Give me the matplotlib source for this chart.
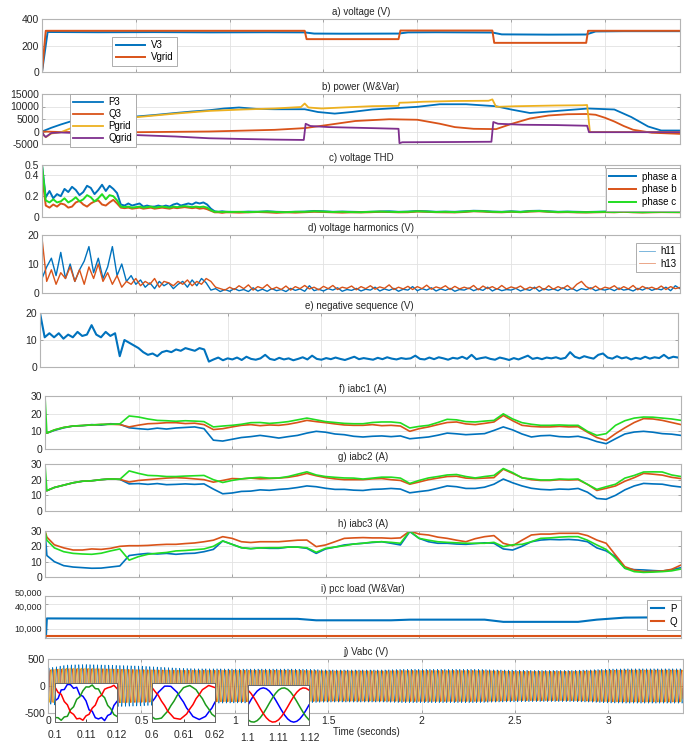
import numpy as np
import matplotlib
matplotlib.use('Agg')
import matplotlib.pyplot as plt
import matplotlib.transforms as mtransforms
from matplotlib.ticker import FuncFormatter

plt.rcParams['font.family'] = ['Liberation Sans', 'DejaVu Sans']
plt.rcParams['font.size'] = 7
plt.rcParams['axes.unicode_minus'] = False

BLUE = '#0072BD'
ORANGE = '#D95319'
YELLOW = '#EDB120'
PURPLE = '#7E2F8E'
GREEN = '#22dd22'

# a) voltage (V)
v3_t = [0, 0.03, 0.3, 0.6, 0.9, 1.2, 1.4, 1.45, 1.6, 1.9, 1.95, 2.1, 2.4, 2.45, 2.7, 2.9, 2.95, 3.1, 3.4]
v3 = [0, 302, 300, 301, 299, 300, 299, 290, 289, 290, 299, 300, 298, 284, 282, 283, 306, 308, 308]
vgrid_t = [0, 0.02, 1.4, 1.41, 1.9, 1.91, 2.4, 2.41, 2.9, 2.91, 3.4]
vgrid = [0, 311, 311, 248, 248, 313, 313, 220, 220, 311, 311]

# b) power (W&Var)
p3_t = [0, 0.05, 0.1, 0.16, 0.25, 0.35, 0.47, 0.6, 0.71, 0.8, 0.89, 0.97, 1.05, 1.14, 1.24, 1.40, 1.47,
        1.56, 1.65, 1.76, 1.85, 2.0, 2.12, 2.26, 2.42, 2.5, 2.6, 2.74, 2.91, 3.05, 3.14, 3.23, 3.3, 3.4]
p3 = [0, 1500, 2800, 4200, 5000, 5400, 5800, 6600, 7400, 8000, 8500, 9200, 9600, 9050, 8900, 8900, 7800,
      7160, 7800, 8800, 9200, 9860, 10900, 10900, 10100, 8800, 7400, 8200, 9200, 8800, 5800, 2000, 400, 400]
pgrid_t = [0, 0.01, 0.02, 0.05, 0.1, 0.16, 0.3, 0.47, 0.6, 0.71, 0.89, 1.07, 1.24, 1.38, 1.40, 1.42, 1.49,
           1.6, 1.76, 1.9, 1.905, 1.95, 2.03, 2.2, 2.38, 2.40, 2.42, 2.52, 2.74, 2.88, 2.905, 2.92, 3.4]
pgrid = [0, -1500, -2300, -800, -300, 1500, 4000, 5500, 6400, 7160, 8240, 8800, 9200, 9800, 11200, 9600, 9200,
         9600, 10130, 10270, 11500, 11600, 11900, 12200, 12300, 12840, 9860, 10100, 10400, 10500, 10600, -200, -200]
q3_t = [0, 0.1, 0.47, 0.89, 1.24, 1.40, 1.53, 1.67, 1.85, 2.0, 2.12, 2.2, 2.3, 2.42, 2.5, 2.6, 2.7, 2.8,
        2.9, 2.95, 3.0, 3.05, 3.1, 3.15, 3.25, 3.4]
q3 = [0, -200, -300, 0, 670, 1350, 2700, 4200, 4900, 4700, 3100, 1760, 1080, 950, 3000, 5200, 6400, 6900,
      7000, 6700, 5500, 4000, 2200, 700, -500, -950]
qgrid_t = [0, 0.01, 0.02, 0.05, 0.1, 0.47, 0.71, 0.89, 1.07, 1.24, 1.395, 1.405, 1.43, 1.53, 1.76, 1.9,
           1.905, 1.92, 2.2, 2.395, 2.405, 2.43, 2.56, 2.74, 2.905, 2.915, 3.4]
qgrid = [0, -1500, -2200, -600, -400, -1350, -2000, -2700, -3000, -3240, -3380, 3100, 2200, 1760, 1350, 1080,
         -4700, -4300, -4200, -4100, 3800, 3100, 2700, 2570, 2300, -270, -270]

# c) voltage THD: 0.02 s steps up to 1 s, then 0.05 s steps
thd_t = np.r_[0, np.arange(1, 50) * 0.02, np.arange(20, 69) * 0.05]
thd_a = [0.5,
         0.19, 0.25, 0.18, 0.22, 0.20, 0.27, 0.24, 0.29, 0.26, 0.21,
         0.24, 0.30, 0.28, 0.22, 0.26, 0.31, 0.25, 0.30, 0.27, 0.23,
         0.12, 0.11, 0.13, 0.11, 0.12, 0.13, 0.10, 0.11, 0.10, 0.10,
         0.11, 0.10, 0.11, 0.10, 0.12, 0.13, 0.11, 0.12, 0.13, 0.12,
         0.14, 0.13, 0.14, 0.12, 0.08, 0.055, 0.05, 0.055, 0.05,
         0.05, 0.048, 0.052, 0.05, 0.055, 0.05, 0.048, 0.05, 0.052, 0.058,
         0.055, 0.05, 0.052, 0.05, 0.048, 0.05, 0.053, 0.055, 0.05, 0.052,
         0.058, 0.055, 0.05, 0.052, 0.05, 0.055, 0.06, 0.058, 0.052, 0.05,
         0.055, 0.05, 0.058, 0.06, 0.055, 0.05, 0.052, 0.05, 0.048, 0.05,
         0.052, 0.05, 0.055, 0.05, 0.048, 0.05, 0.052, 0.05, 0.05]
thd_b = [0.4,
         0.11, 0.09, 0.12, 0.10, 0.13, 0.12, 0.09, 0.10, 0.14, 0.155,
         0.12, 0.10, 0.13, 0.15, 0.16, 0.12, 0.11, 0.14, 0.165, 0.13,
         0.09, 0.085, 0.09, 0.08, 0.085, 0.09, 0.08, 0.085, 0.09, 0.08,
         0.085, 0.09, 0.085, 0.08, 0.09, 0.085, 0.09, 0.095, 0.09, 0.085,
         0.09, 0.08, 0.085, 0.075, 0.06, 0.045, 0.045, 0.04, 0.045,
         0.045, 0.042, 0.045, 0.048, 0.045, 0.04, 0.045, 0.042, 0.046, 0.05,
         0.048, 0.045, 0.042, 0.045, 0.044, 0.046, 0.05, 0.048, 0.045, 0.046,
         0.052, 0.05, 0.046, 0.045, 0.044, 0.048, 0.055, 0.052, 0.047, 0.045,
         0.05, 0.046, 0.052, 0.055, 0.05, 0.045, 0.047, 0.044, 0.043, 0.045,
         0.047, 0.045, 0.05, 0.045, 0.043, 0.045, 0.047, 0.046, 0.045]
thd_c = [0.5,
         0.16, 0.14, 0.17, 0.14, 0.15, 0.18, 0.14, 0.16, 0.19, 0.15,
         0.17, 0.21, 0.19, 0.15, 0.18, 0.22, 0.17, 0.21, 0.20, 0.16,
         0.10, 0.095, 0.10, 0.09, 0.095, 0.10, 0.09, 0.095, 0.10, 0.09,
         0.095, 0.10, 0.095, 0.09, 0.10, 0.095, 0.10, 0.105, 0.10, 0.095,
         0.10, 0.095, 0.10, 0.09, 0.065, 0.05, 0.05, 0.048, 0.05,
         0.048, 0.05, 0.047, 0.05, 0.052, 0.048, 0.046, 0.05, 0.05, 0.055,
         0.052, 0.048, 0.05, 0.047, 0.046, 0.05, 0.052, 0.05, 0.048, 0.05,
         0.055, 0.052, 0.048, 0.05, 0.047, 0.052, 0.057, 0.055, 0.05, 0.048,
         0.052, 0.048, 0.055, 0.058, 0.052, 0.048, 0.05, 0.047, 0.046, 0.048,
         0.05, 0.048, 0.052, 0.048, 0.046, 0.048, 0.05, 0.048, 0.048]

# d) voltage harmonics (V), 0.025 s steps
harm_t = np.arange(137) * 0.025
h11 = [5, 9, 12, 6, 14, 5, 10, 4, 8, 11,
       16, 7, 12, 5, 9, 16, 6, 10, 4, 6,
       3, 4.5, 2, 3.5, 1.5, 4, 2.5, 3.5, 1.5, 3,
       4, 2, 4.5, 2.5, 5, 3.5, 1, 1.5, 0.5, 1.2,
       0.6, 1.5, 0.8, 1.2, 0.5, 1.8, 0.7, 1.3, 0.6, 1.5,
       0.8, 1.2, 0.5, 1.6, 0.9, 1.4, 0.6, 2.5, 0.8, 1.3,
       0.7, 1.5, 1.0, 1.8, 0.6, 1.2, 0.9, 1.6, 0.7, 1.3,
       1.0, 2.0, 0.7, 1.4, 0.9, 1.6, 0.6, 1.3, 1.0, 2.2,
       0.8, 1.5, 1.0, 1.8, 0.7, 1.4, 0.9, 1.6, 0.6, 1.2,
       1.0, 1.7, 0.8, 1.4, 0.9, 2.0, 0.7, 1.5, 0.8, 1.2,
       1.0, 1.6, 0.7, 1.3, 0.9, 2.0, 0.6, 1.5, 1.0, 1.4,
       0.8, 1.8, 1.0, 1.6, 0.7, 1.5, 1.1, 1.8, 0.8, 1.3,
       1.0, 1.5, 0.8, 1.7, 1.0, 1.3, 0.7, 1.6, 1.0, 1.8,
       0.9, 1.5, 1.1, 2.0, 0.8, 2.5, 1.5]
h13 = [19, 4, 8, 3, 7, 5, 9, 4, 8, 3,
       9, 5, 10, 4, 7, 3, 6, 2, 4, 3,
       5, 2.5, 4, 3, 5, 2, 4, 3.5, 2.5, 4,
       3, 4.5, 2.5, 4, 3, 5, 4, 2, 1.5, 1,
       2, 1.2, 2.5, 1.5, 2.8, 1.0, 2.2, 1.6, 2.9, 1.3,
       2.0, 1.2, 2.4, 1.0, 2.2, 1.5, 2.6, 1.4, 2.0, 1.1,
       2.3, 1.5, 2.6, 1.2, 2.0, 1.6, 2.4, 1.1, 2.2, 1.5,
       2.5, 1.3, 2.1, 1.6, 2.8, 1.2, 2.0, 1.4, 2.3, 1.2,
       2.2, 1.5, 2.7, 1.3, 2.1, 1.6, 2.5, 1.2, 2.3, 1.4,
       2.0, 1.5, 2.6, 1.1, 2.4, 1.5, 2.2, 1.3, 2.6, 1.4,
       2.1, 1.6, 2.4, 1.2, 2.0, 1.5, 2.3, 1.1, 2.5, 1.3,
       2.2, 1.5, 2.6, 1.3, 3.0, 4.0, 2.2, 1.4, 2.4, 1.2,
       2.0, 1.6, 2.5, 1.2, 2.2, 1.4, 2.6, 1.1, 2.3, 1.5,
       2.0, 1.3, 2.4, 1.2, 2.2, 1.5, 1.9]

# e) negative sequence (V), 0.025 s steps
neg_seq = [20, 11, 12.5, 11, 12.5, 10.5, 12, 11, 13, 11.5,
           12, 15.5, 12, 11, 13, 11.5, 12.5, 4, 10, 9,
           8, 7, 5.5, 4.5, 5, 4, 5.5, 6, 5.5, 6.5,
           6, 7, 6.5, 6, 7, 6.5, 2, 2.8, 3.5, 2.5,
           3.2, 2.8, 3.5, 2.6, 3.8, 3, 2.7, 3.2, 4.5, 3,
           2.6, 3.4, 2.8, 3.2, 2.5, 3, 3.6, 2.8, 4.2, 3,
           2.7, 3.3, 2.9, 3.5, 3, 2.6, 3.2, 3.8, 2.9, 3.3,
           3, 2.7, 3.4, 2.9, 3.6, 3.1, 2.8, 3.3, 3, 3.2,
           4.2, 3, 2.8, 3.5, 2.9, 3.6, 3.2, 2.7, 3.4, 3.1,
           3.8, 3, 4.5, 2.9, 3.3, 3.6, 3, 2.7, 3.5, 3.1,
           2.6, 3.3, 2.8, 3.5, 4.2, 3, 3.4, 2.9, 3.5, 3.2,
           3.6, 3, 3.4, 5.5, 3.8, 3.2, 4, 3.5, 3.1, 4.5,
           5, 3.5, 3.1, 4, 3.2, 3.6, 2.8, 3.4, 3, 3.8,
           3.1, 3.6, 3.3, 4.5, 3.2, 3.8, 3.5]

# f/g/h) inverter currents (A): t=0, 0.01, then 0.05 s steps
cur_t = np.r_[0, 0.01, np.arange(1, 69) * 0.05]
iabc1_a = [9, 9, 10.5, 12, 13, 13.2, 13.8, 13.5, 14.3, 14,
           12, 11.5, 11.1, 11.8, 11.3, 11.9, 12.2, 12.5, 11.5, 5,
           4.5, 5.5, 6.5, 7, 7.7, 7, 6.2, 7, 7.7, 9,
           10, 9.5, 8.5, 8.1, 7.2, 6.8, 7.2, 7.4, 7, 7.4,
           5.8, 6.3, 6.8, 7.8, 9, 8.6, 8.1, 8.4, 8.7, 10.5,
           12.5, 10.8, 8.5, 6.8, 7.5, 7.7, 7, 6.8, 7.2, 6,
           4.2, 3, 5.8, 8.5, 9.6, 10, 9.5, 8.7, 8.4, 7.7]
iabc1_b = [9, 9, 10.8, 12.2, 13, 13.3, 13.6, 13.9, 14, 13.8,
           12.5, 13.5, 14.3, 14.5, 14.9, 14.9, 14.4, 14.6, 13.8, 11,
           11.5, 12.5, 13.4, 13.8, 13.2, 13.6, 13.4, 14, 15, 16.2,
           15.5, 14.9, 14.2, 13.6, 13.4, 13.4, 13.8, 13.2, 13.4, 13,
           10, 11.5, 12.5, 13.8, 15, 15.3, 14.2, 13.8, 14.5, 15.3,
           19, 16, 13.4, 12.8, 12.5, 12.5, 12.8, 12.5, 12.6, 9.5,
           6.5, 4.9, 8.7, 12, 15, 17.2, 17, 16.2, 15, 13.8]
iabc1_c = [30, 9, 10.8, 12.2, 13, 13.3, 13.6, 13.9, 14, 14.2,
           18.7, 18.1, 17, 16.2, 16, 15.7, 16, 15.8, 15.5, 12.5,
           13, 13.4, 14, 14.9, 15, 14.5, 14.9, 15.5, 16.5, 17.5,
           16.5, 15.5, 15, 14.5, 14.3, 14.3, 15, 15.3, 15.3, 14.8,
           11.9, 12.8, 13.4, 15, 16.8, 16.5, 15.5, 15.3, 15.8, 16.2,
           19.9, 17, 14.9, 14, 13.4, 13.4, 13.6, 13.4, 13.4, 10,
           7.7, 8.7, 13.4, 16, 17.5, 18.1, 18, 17.5, 17, 16.2]
iabc2_a = [13, 13, 15, 16.5, 18, 19, 19.3, 20, 20.5, 20.2,
           17.3, 17.5, 17, 17.5, 16.8, 17, 17.3, 17, 17.3, 14,
           11, 11.5, 12.5, 12.7, 13.5, 13.2, 13.8, 14.2, 15, 16,
           15.5, 14.5, 13.8, 13.8, 13.3, 13.1, 13.8, 14, 14.4, 14,
           11.6, 12.4, 13.1, 14.5, 16, 15.5, 14.4, 14.4, 15.2, 17.1,
           20.4, 18, 16, 14.5, 13.8, 13.5, 14, 13.8, 14.4, 12,
           8, 7.5, 10, 13.5, 16, 17.6, 17.3, 17.1, 16, 15.3]
iabc2_b = [13, 13, 15, 16.5, 18, 19, 19.3, 20, 20.5, 20.2,
           18.5, 19.5, 20, 20.5, 21, 21.3, 21, 20.5, 20, 18.4,
           19.5, 20.7, 20.5, 21, 20.5, 20.7, 21, 21.5, 22.5, 24,
           22.5, 21.3, 20.5, 20, 20, 20, 20.5, 20.7, 20, 19.5,
           17.1, 18.5, 20, 21, 22, 22.2, 21, 20.7, 21, 21.3,
           26.7, 24, 21.3, 20, 19.5, 19.5, 20, 19.8, 20, 17,
           13.1, 14.5, 16, 19, 21.3, 24, 23.5, 22.9, 21.5, 20.7]
iabc2_c = [30, 13, 15, 16.5, 18, 19, 19.3, 20, 20.5, 20.2,
           25.6, 24, 22.7, 22.5, 22, 22, 22.3, 22.5, 22.7, 20,
           18.2, 19.5, 20.5, 21.1, 21.5, 21, 21.1, 22, 23.5, 25,
           23, 22, 21.5, 21.1, 21, 20.4, 21, 21.6, 21.6, 21,
           17.6, 19.5, 21.1, 22, 23, 23.3, 22, 21.1, 22, 22.7,
           27.1, 24.5, 21.1, 20.5, 19.8, 19.8, 20.4, 20.2, 20.4, 17,
           13.8, 15.5, 17.1, 21, 22.7, 24.9, 25, 24.9, 23, 22]
iabc3_a = [30, 14, 10, 7.4, 6.5, 6.1, 5.7, 5.8, 6.5, 7.2,
           14, 14.8, 15.4, 15, 15.4, 14.8, 15.3, 15.5, 16.5, 18,
           23.5, 21.3, 19.1, 18.5, 19, 18.7, 18.7, 19.5, 19.5, 18.7,
           15.4, 18.3, 19.5, 20.9, 21.5, 22, 22.5, 23, 22, 20.9,
           29.6, 25.2, 23, 22, 22, 21.5, 21.3, 21.8, 22.3, 22,
           18.3, 17.6, 20, 23, 24.1, 24.5, 24.3, 24.5, 24.1, 23,
           19, 17, 13.3, 5.7, 4.8, 4.6, 4.2, 3.9, 4.8, 6.1]
iabc3_b = [30, 26, 21, 19, 17.6, 17.6, 18.3, 18, 18.7, 20,
           20.4, 20.4, 20.6, 21, 21.3, 21.3, 21.8, 22.2, 23, 24,
           26.3, 25.2, 23, 22.5, 23, 23, 23, 23.5, 24, 24.1,
           19.8, 20.9, 23, 25.2, 25.5, 25.7, 25.5, 25.5, 25.2, 25.5,
           30, 28, 27.4, 26, 25.2, 24, 23, 25, 26.3, 27,
           22, 20.4, 24, 27.4, 28, 28, 28.5, 28.5, 28.5, 27,
           24.1, 22, 14.3, 6.7, 4.5, 3.5, 3.7, 3.9, 5, 7.8]
iabc3_c = [30, 24, 19, 16.5, 15.4, 15, 14.8, 15.5, 17, 18.3,
           11, 13.3, 14.8, 15.5, 16, 17, 17.3, 17.8, 18.3, 20,
           23.5, 21.3, 19.1, 18.5, 19, 19.1, 19.1, 19.5, 19.5, 19.1,
           16.1, 18.7, 19.5, 20.4, 21.5, 22, 22.8, 23, 22.6, 22,
           30, 25.2, 24, 23, 22.6, 22.3, 22, 22, 22, 22.6,
           19.8, 21, 21.3, 23, 25.2, 25.5, 26, 26.3, 26.3, 24,
           20.9, 18, 12.2, 5.7, 3.5, 3, 3.2, 3.5, 4, 5.2]

# i) pcc load (W&Var)
pcc_t = [0, 0.005, 0.01, 0.5, 1.0, 1.35, 1.45, 1.85, 1.95, 2.35, 2.45, 2.85, 2.95, 3.1, 3.4]
pcc_p = [0, 0, 22500, 22200, 22000, 22000, 20200, 20200, 21000, 21000, 18300, 18300, 21000, 23500, 24000]
pcc_q_t = [0, 3.4]
pcc_q = [1000, 1000]

# j) Vabc (V): peak envelope of each phase every 0.1 s
vabc_env_t = np.arange(35) * 0.1
env_a = [330, 390, 400, 390, 380, 370, 350, 330, 320, 320, 315, 315, 315, 315, 310, 300, 300, 300,
         300, 310, 310, 310, 310, 310, 300, 295, 290, 290, 290, 300, 315, 320, 320, 320, 320]
env_b = [300, 320, 320, 320, 310, 305, 300, 295, 295, 295, 295, 295, 295, 295, 290, 285, 285, 285,
         285, 290, 290, 290, 290, 290, 285, 275, 275, 275, 275, 285, 295, 300, 300, 300, 300]
env_c = [300, 330, 330, 320, 310, 300, 295, 290, 290, 290, 290, 290, 290, 290, 285, 280, 280, 280,
         280, 285, 285, 285, 285, 285, 280, 270, 270, 270, 270, 280, 290, 295, 295, 295, 295]
GRID_HZ = 50

# zoomed Vabc windows, 1 ms samples
zoom_windows = [(0.10, 0.12), (0.60, 0.62), (1.10, 1.12)]
zoom_a = [[30, 73, 226, 233, 325, 320, 255, 273, 136, 113, 30, -133, -156, -273, -295, -270, -325, -233, -206, -53, 20],
          [10, 85, 182, 238, 293, 294, 290, 235, 182, 88, 8, -99, -171, -251, -279, -305, -277, -249, -171, -101, 6],
          [0, 93, 176, 243, 285, 300, 285, 243, 176, 93, 0, -93, -176, -243, -285, -300, -285, -243, -176, -93, 0]]
zoom_b = [[275, 181, 147, 17, -42, -175, -213, -294, -284, -318, -240, -211, -102, -47, 87, 130, 238, 264, 279, 308, 250],
          [268, 195, 128, 26, -55, -156, -216, -281, -291, -300, -253, -206, -115, -38, 70, 143, 230, 267, 306, 287, 268],
          [260, 201, 122, 32, -62, -150, -223, -274, -299, -293, -260, -201, -122, -32, 62, 150, 223, 274, 299, 293, 260]]
zoom_c = [[-270, -273, -319, -259, -248, -130, -77, 57, 102, 211, 280, 278, 314, 249, 243, 140, 87, -52, -112, -216, -250],
          [-255, -297, -292, -280, -216, -155, -56, 26, 128, 195, 266, 288, 304, 268, 229, 144, 70, -38, -116, -209, -252],
          [-260, -293, -299, -274, -223, -150, -62, 32, 122, 201, 260, 293, 299, 274, 223, 150, 62, -32, -122, -201, -260]]

W, H = 684.0, 742.0


def add_panel(fig, left, top, bottom, right=680):
    return fig.add_axes([left / W, 1 - bottom / H, (right - left) / W, (bottom - top) / H])


def style(ax, title, ylim, yticks, show_x=False):
    ax.set_xlim(0, 3.4)
    ax.set_ylim(*ylim)
    ax.set_yticks(yticks)
    ax.yaxis.set_major_formatter(FuncFormatter(lambda v, p: f'{v:g}'))
    ax.set_xticks(np.arange(0, 3.01, 0.5))
    ax.grid(True, color='#e2e2e2', lw=0.6)
    ax.set_axisbelow(True)
    ax.tick_params(direction='in', top=True, right=True, length=2.5, width=0.5, color='#8a8a8a',
                   labelsize=7.5, pad=2, labelcolor='#262626')
    if not show_x:
        ax.tick_params(labelbottom=False)
    for s in ax.spines.values():
        s.set_color('#b4b4b4')
        s.set_linewidth(0.8)
    ax.set_title(title, fontsize=7, pad=3, color='#262626')


def legend(ax, **kw):
    opts = dict(fontsize=7, frameon=True, fancybox=False, edgecolor='#a0a0a0', framealpha=1,
                borderpad=0.35, labelspacing=0.3, handletextpad=0.6, borderaxespad=0)
    opts.update(kw)
    leg = ax.legend(**opts)
    leg.get_frame().set_linewidth(0.6)
    return leg


fig = plt.figure(figsize=(W / 100, H / 100), dpi=100)

ax = add_panel(fig, 42, 19, 72)
ax.plot(v3_t, v3, color=BLUE, lw=1.4, label='V3')
ax.plot(vgrid_t, vgrid, color=ORANGE, lw=1.4, label='Vgrid')
style(ax, 'a) voltage (V)', (0, 400), [0, 200, 400])
legend(ax, loc='upper left', bbox_to_anchor=(0.11, 0.66), handlelength=3.0, labelspacing=0.2)

ax = add_panel(fig, 42, 94, 144)
ax.plot(p3_t, p3, color=BLUE, lw=1.3, label='P3')
ax.plot(q3_t, q3, color=ORANGE, lw=1.3, label='Q3')
ax.plot(pgrid_t, pgrid, color=YELLOW, lw=1.3, label='Pgrid')
ax.plot(qgrid_t, qgrid, color=PURPLE, lw=1.3, label='Qgrid')
style(ax, 'b) power (W&Var)', (-5000, 15000), [-5000, 0, 5000, 10000, 15000])
legend(ax, loc='upper left', bbox_to_anchor=(0.044, 1.0), handlelength=3.0, labelspacing=0.2)

ax = add_panel(fig, 42, 165, 217)
ax.plot(thd_t, thd_a, color=BLUE, lw=1.4, label='phase a')
ax.plot(thd_t, thd_b, color=ORANGE, lw=1.4, label='phase b')
ax.plot(thd_t, thd_c, color=GREEN, lw=1.4, label='phase c')
style(ax, 'c) voltage THD', (0, 0.5), [0, 0.2, 0.4, 0.5])
legend(ax, loc='upper right', bbox_to_anchor=(1.0, 0.94), handlelength=2.8)

ax = add_panel(fig, 42, 235, 293)
ax.plot(harm_t, h11, color=BLUE, lw=1.0, label='h11')
ax.plot(harm_t, h13, color=ORANGE, lw=1.0, label='h13')
style(ax, 'd) voltage harmonics (V)', (0, 20), [0, 10, 20])
leg = legend(ax, loc='upper right', bbox_to_anchor=(1.0, 0.87), handlelength=1.6)
for h in leg.get_lines():
    h.set_linewidth(0.6)
    h.set_alpha(0.6)

ax = add_panel(fig, 40, 313, 367, right=678)
ax.plot(harm_t, neg_seq, color=BLUE, lw=1.5)
style(ax, 'e) negative sequence (V)', (0, 20), [0, 10, 20])

for (top, bottom, name, series) in [
        (396, 449, 'f) iabc1 (A)', (iabc1_a, iabc1_b, iabc1_c)),
        (464, 511, 'g) iabc2 (A)', (iabc2_a, iabc2_b, iabc2_c)),
        (531, 577, 'h) iabc3 (A)', (iabc3_a, iabc3_b, iabc3_c))]:
    ax = add_panel(fig, 45, top, bottom, right=681)
    for vals, col in zip(series, (BLUE, ORANGE, GREEN)):
        ax.plot(cur_t, vals, color=col, lw=1.2)
    style(ax, name, (0, 30), [0, 10, 20, 30])

ax = add_panel(fig, 45, 596, 638, right=681)
ax.plot(pcc_t, pcc_p, color=BLUE, lw=1.5, label='P')
ax.plot(pcc_q_t, pcc_q, color=ORANGE, lw=1.5, label='Q')
style(ax, 'i) pcc load (W&Var)', (-1500, 50000), [10000, 40000, 50000])
ax.yaxis.set_major_formatter(FuncFormatter(lambda v, p: f'{int(v):,}'))
ax.tick_params(axis='y', labelsize=6.5)
# the two top labels sit close together: nudge them apart a little
fig.canvas.draw()
ylabels = ax.get_yticklabels()
ylabels[2].set_transform(ylabels[2].get_transform() + mtransforms.ScaledTranslation(0, 2.5 / 72, fig.dpi_scale_trans))
ylabels[1].set_transform(ylabels[1].get_transform() + mtransforms.ScaledTranslation(0, -1.5 / 72, fig.dpi_scale_trans))
legend(ax, loc='upper right', bbox_to_anchor=(1.0, 0.9), handlelength=1.4)

# j) three-phase voltage, 50 Hz carrier scaled by the peak envelope
ax = add_panel(fig, 48, 659, 713, right=683)
tj = np.arange(0, 3.4, 0.0004)
for env, shift, col in [(env_a, 0, BLUE), (env_b, -2 * np.pi / 3, ORANGE), (env_c, 2 * np.pi / 3, YELLOW)]:
    amp = np.interp(tj, vabc_env_t, env)
    ax.plot(tj, amp * np.sin(2 * np.pi * GRID_HZ * tj + shift), color=col, lw=0.45)
style(ax, 'j) Vabc (V)', (-500, 500), [-500, 0, 500], show_x=True)
ax.set_xticklabels(['0', '0.5', '1', '1.5', '2', '2.5', '3'])
fig.text(366 / W, 1 - 732 / H, 'Time (seconds)', ha='center', va='center', fontsize=7, color='#262626')

inset_boxes = [(55, 117, 683, 722), (152, 215, 683, 722), (248, 309, 685, 725)]
for k, ((t0, t1), (l, r, tp, bt)) in enumerate(zip(zoom_windows, inset_boxes)):
    ins = add_panel(fig, l, tp, bt, right=r)
    tz = np.linspace(t0, t1, 21)
    ins.plot(tz, zoom_a[k], color='#0000ff', lw=1.1)
    ins.plot(tz, zoom_c[k], color='#1a9a1a', lw=1.1)
    ins.plot(tz, zoom_b[k], color='#ff0000', lw=1.1)
    ins.set_xlim(t0, t1)
    ins.set_ylim(-350, 350)
    ins.set_yticks([])
    ins.set_xticks([t0, (t0 + t1) / 2, t1])
    ins.set_xticklabels([f'{t0:g}', f'{(t0 + t1) / 2:g}', f'{t1:g}'])
    ins.tick_params(direction='in', length=2, width=0.5, labelsize=7.5, pad=5.5, labelcolor='#262626')
    ins.set_facecolor('white')
    for s in ins.spines.values():
        s.set_color('#666666')
        s.set_linewidth(0.7)

fig.savefig('out.png', dpi=100)
